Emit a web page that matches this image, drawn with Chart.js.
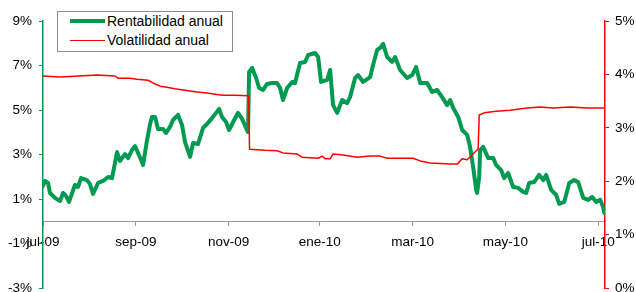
<!DOCTYPE html>
<html>
<head>
<meta charset="utf-8">
<script src="https://cdn.jsdelivr.net/npm/chart.js@4.4.0/dist/chart.umd.min.js"></script>
<style>
  body { margin: 0; background: #fff; }
  #wrap { position: relative; width: 636px; height: 292px; }
  #leyenda {
    position: absolute; left: 57px; top: 11px; width: 174px; height: 39px;
    border: 1px solid #8c8c8c; background: #fff;
    font: 14px Arial, 'Liberation Sans', sans-serif; color: #000;
  }
  .item { position: absolute; left: 12px; height: 16px; display: flex; align-items: center; white-space: nowrap; }
  .muestra { width: 35px; margin-right: 2px; }
</style>
</head>
<body>
<div id="wrap">
  <canvas id="grafico" width="636" height="292"></canvas>
  <div id="leyenda"></div>
</div>
<script>
// eje x en dias desde el 1-jul-09
const etiquetasX = ['jul-09', 'sep-09', 'nov-09', 'ene-10', 'mar-10', 'may-10', 'jul-10'];
const posicionesX = [0, 61, 122, 182, 243, 304, 365];

// Rentabilidad anual (%), eje izquierdo
const diasRent = [0, 1.3, 3.3, 4.6, 7.9, 9.9, 11.2, 13.2, 15.1, 17.1, 21.0, 23.0, 25.0, 28.9, 30.9, 32.9,
  36.2, 39.5, 42.8, 45.4, 48.7, 50.6, 53.9, 55.9, 58.5, 60.5, 62.5, 64.5, 65.8, 68.4, 70.4, 71.7,
  73.7, 75.6, 78.9, 80.9, 83.5, 85.5, 88.8, 91.4, 93.4, 96.7, 98.7, 101.9, 105.2, 108.5, 111.8, 115.8,
  117.7, 120.4, 122.3, 125.0, 128.2, 130.9, 133.5, 134.8, 135.5, 137.5, 140.1, 142.1, 144.7, 147.3, 150.6,
  153.9, 155.9, 157.8, 160.5, 163.8, 165.7, 169.0, 172.3, 174.3, 178.9, 180.9, 182.8, 186.8, 188.8, 190.7,
  193.4, 196.7, 199.9, 201.9, 205.2, 207.2, 210.5, 215.1, 217.0, 219.7, 221.6, 223.6, 226.3, 229.5, 231.5,
  234.8, 239.4, 242.7, 245.3, 248.0, 252.6, 255.8, 259.1, 262.4, 265.7, 267.7, 269.7, 273.0, 275.6, 278.9,
  280.8, 282.8, 284.8, 285.4, 286.8, 287.4, 289.4, 292.7, 296.0, 297.9, 301.2, 303.2, 305.8, 309.1, 312.4,
  315.7, 317.7, 319.6, 322.9, 326.2, 328.9, 330.8, 334.1, 337.4, 339.4, 342.7, 346.0, 349.2, 351.9, 355.2,
  358.4, 361.1, 363.7, 366.4, 368.4, 369.1];
const rentabilidad = [1.59, 1.81, 1.72, 1.27, 1.05, 0.96, 0.91, 1.27, 1.14, 0.87, 1.63, 1.54, 1.94, 1.85, 1.67, 1.23,
  1.72, 1.81, 1.99, 1.94, 3.11, 2.71, 3.02, 2.84, 3.20, 3.38, 3.07, 2.75, 2.53, 3.65, 4.37, 4.69,
  4.69, 4.15, 4.15, 3.97, 4.24, 4.55, 4.78, 4.33, 3.56, 2.89, 3.52, 3.47, 4.19, 4.42, 4.69, 5.05,
  4.69, 4.46, 4.10, 4.46, 4.87, 4.60, 4.19, 4.01, 6.71, 6.89, 6.44, 5.99, 5.90, 6.17, 6.21,
  6.21, 5.99, 5.45, 5.99, 6.26, 6.21, 7.11, 7.16, 7.47, 7.56, 7.38, 6.26, 6.35, 6.80, 5.22,
  4.87, 5.45, 5.31, 5.58, 6.44, 6.57, 6.26, 6.48, 7.02, 7.70, 7.79, 7.97, 7.38, 7.16, 7.38,
  6.80, 6.44, 6.57, 6.93, 6.21, 6.21, 5.81, 5.90, 5.58, 5.22, 5.45, 5.09, 4.69, 4.10, 3.88,
  3.34, 2.44, 1.41, 1.27, 1.99, 3.20, 3.34, 2.84, 2.84, 2.53, 2.30, 1.94, 2.17, 1.54, 1.50,
  1.32, 1.27, 1.72, 1.76, 2.08, 1.85, 2.08, 1.41, 1.18, 0.78, 0.87, 1.72, 1.85, 1.76, 1.05,
  0.96, 1.09, 0.87, 0.96, 0.60, 0.37];

// Volatilidad anual (%), eje derecho
const diasVol = [0, 11, 24, 35.5, 47.4, 49.3, 57.2, 61.8, 69.1, 72.3, 77, 81.5, 86.8, 92.1, 96.7, 101.3,
  107.9, 113.1, 118.4, 126.3, 135.2, 135.8, 146, 153.9, 157.8, 167, 170.3, 180.9, 183.5, 185.5, 188.8,
  190.7, 197.3, 206.5, 215.1, 221.6, 226.3, 243.3, 248, 254.5, 267.7, 272.3, 275.6, 278.9, 282.1, 284.8,
  286.1, 286.8, 290.1, 297.9, 307.1, 318.3, 326.9, 335.4, 346.6, 357.8, 369.5];
const volatilidad = [3.97, 3.95, 3.97, 3.99, 3.97, 3.93, 3.93, 3.91, 3.89, 3.84, 3.78, 3.76, 3.73, 3.71, 3.69, 3.67,
  3.65, 3.63, 3.61, 3.61, 3.60, 2.60, 2.58, 2.57, 2.53, 2.51, 2.45, 2.43, 2.47, 2.42, 2.42,
  2.51, 2.49, 2.45, 2.47, 2.47, 2.43, 2.43, 2.38, 2.34, 2.32, 2.32, 2.42, 2.40, 2.49, 2.57,
  2.60, 3.24, 3.28, 3.31, 3.33, 3.37, 3.39, 3.37, 3.39, 3.37, 3.37];

const verde = '#009A50';
const rojo = '#FF0000';
const fuente = { family: "Arial, 'Liberation Sans', sans-serif", size: 13.5 };

function sinPadding(scale) {
  scale.paddingTop = 0;
  scale.paddingBottom = 0;
}

const ctx = document.getElementById('grafico').getContext('2d');
const chart = new Chart(ctx, {
  type: 'line',
  data: {
    datasets: [{
      label: 'Rentabilidad anual',
      data: diasRent.map((d, i) => ({ x: d, y: rentabilidad[i] })),
      borderColor: verde,
      borderWidth: 4,
      yAxisID: 'y',
      order: 2
    }, {
      label: 'Volatilidad anual',
      data: diasVol.map((d, i) => ({ x: d, y: volatilidad[i] })),
      borderColor: rojo,
      borderWidth: 1.5,
      yAxisID: 'y1',
      order: 1
    }]
  },
  options: {
    responsive: false,
    animation: false,
    devicePixelRatio: 1,
    layout: { padding: { top: 21, bottom: 4, left: 0, right: 0 } },
    elements: {
      point: { radius: 0 },
      line: { tension: 0, borderJoinStyle: 'round', borderCapStyle: 'round' }
    },
    plugins: {
      legend: { display: false },
      tooltip: { enabled: false }
    },
    scales: {
      x: {
        type: 'linear',
        position: { y: 0 },
        min: 0,
        max: 369.5,
        afterBuildTicks: s => { s.ticks = posicionesX.map(v => ({ value: v })); },
        afterFit: s => { s.paddingLeft = 0; s.paddingRight = 0; },
        border: { color: '#999999', width: 1 },
        grid: { drawOnChartArea: false, drawTicks: true, tickLength: 4, color: '#999999' },
        ticks: {
          autoSkip: false,
          maxRotation: 0,
          padding: 9,
          color: '#000',
          font: fuente,
          callback: v => etiquetasX[posicionesX.indexOf(v)]
        }
      },
      y: {
        position: 'left',
        min: -3,
        max: 9,
        afterFit: s => { s.width = 43; sinPadding(s); },
        border: { color: verde, width: 1.5 },
        grid: { drawOnChartArea: false, drawTicks: true, tickLength: 4, color: verde },
        ticks: { stepSize: 2, padding: 7, color: '#000', font: fuente, callback: v => v + '%' }
      },
      y1: {
        position: 'right',
        min: 0,
        max: 5,
        afterFit: s => { s.width = 31; sinPadding(s); },
        border: { color: rojo, width: 1.5 },
        grid: { drawOnChartArea: false, drawTicks: true, tickLength: 4, color: rojo },
        ticks: { stepSize: 1, padding: 6, color: '#000', font: fuente, callback: v => v + '%' }
      }
    }
  }
});

// leyenda en HTML, dentro del area del grafico
const leyenda = document.getElementById('leyenda');
chart.data.datasets.forEach((ds, i) => {
  const item = document.createElement('div');
  item.className = 'item';
  item.style.top = (1 + i * 19) + 'px';
  const muestra = document.createElement('span');
  muestra.className = 'muestra';
  muestra.style.borderTop = ds.borderWidth + 'px solid ' + ds.borderColor;
  const texto = document.createElement('span');
  texto.textContent = ds.label;
  item.appendChild(muestra);
  item.appendChild(texto);
  leyenda.appendChild(item);
});
</script>
</body>
</html>
